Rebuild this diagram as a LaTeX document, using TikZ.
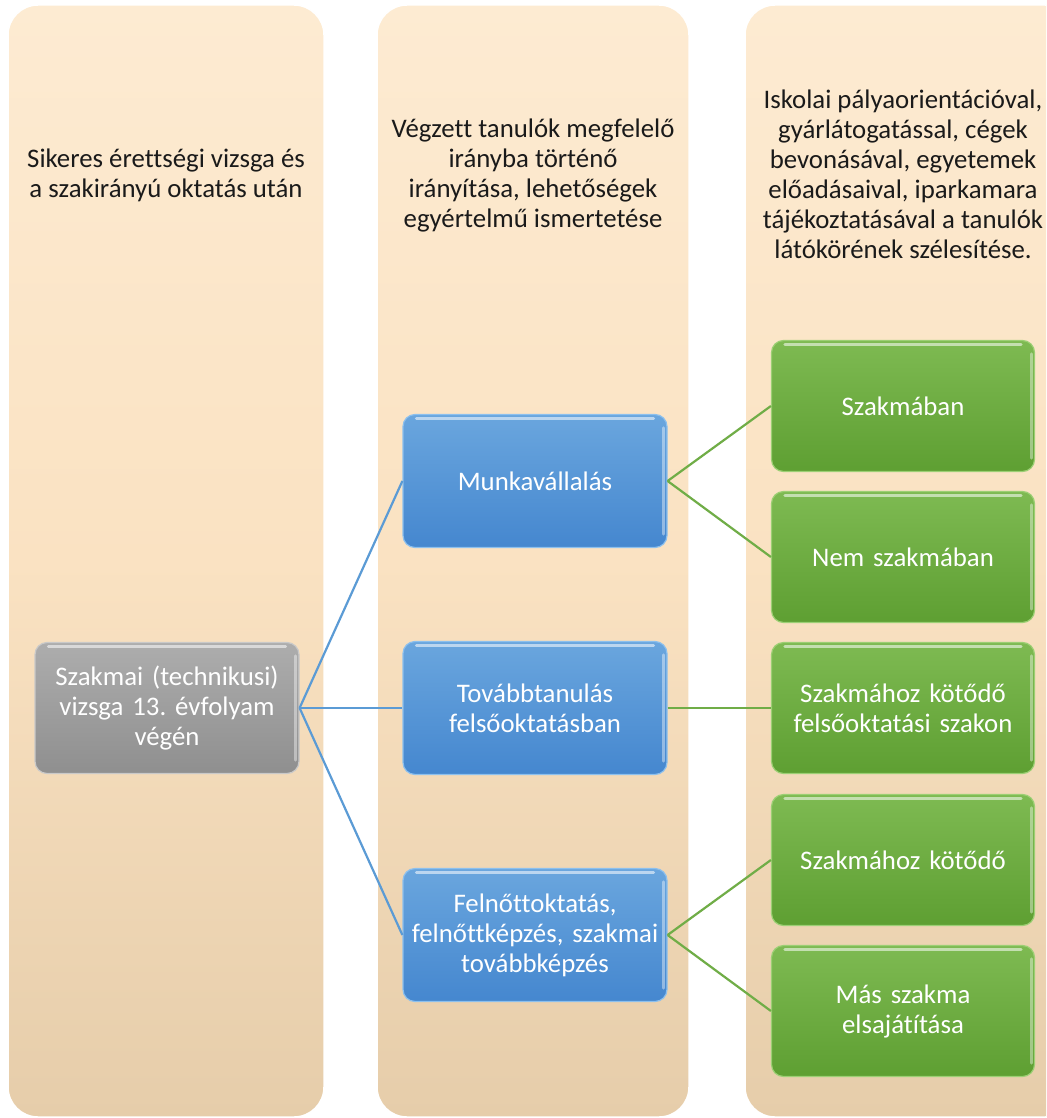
\documentclass[tikz,border=0pt]{standalone}
\usepackage{fontspec}
\setmainfont{Carlito}[Ligatures=NoCommon]
\definecolor{colTop}{HTML}{FDEBD2}
\definecolor{colMid}{HTML}{FAE2C2}
\definecolor{colBot}{HTML}{E6CDAA}
\definecolor{grayTop}{HTML}{ADADAD}
\definecolor{grayBot}{HTML}{8F8F8F}
\definecolor{grayEdge}{HTML}{C9C9C9}
\definecolor{blueTop}{HTML}{6AA6DE}
\definecolor{blueBot}{HTML}{4587CF}
\definecolor{blueEdge}{HTML}{8CC0EE}
\definecolor{greenTop}{HTML}{7EBA52}
\definecolor{greenBot}{HTML}{5E9F32}
\definecolor{greenEdge}{HTML}{9CCF74}
\definecolor{blueLine}{HTML}{5B9BD5}
\definecolor{greenLine}{HTML}{70AD47}
\definecolor{headText}{HTML}{1A1A1A}
\tikzset{
  column/.style={rounded corners=30pt, top color=colTop, bottom color=colBot, middle color=colMid, draw=white, line width=1.5pt},
  header/.style={align=center, text=headText, font=\fontsize{26.8}{30}\selectfont\frenchspacing},
  box/.style={rounded corners=12pt, minimum width=264pt, minimum height=131pt, text width=256pt,
    align=center, text=white, font=\fontsize{26.8}{30}\selectfont\frenchspacing, line width=1.2pt},
  graybox/.style={box, top color=grayTop, bottom color=grayBot, draw=grayEdge},
  bluebox/.style={box, minimum height=133pt, top color=blueTop, bottom color=blueBot, draw=blueEdge},
  greenbox/.style={box, minimum width=263pt, top color=greenTop, bottom color=greenBot, draw=greenEdge},
  gloss/.style={white, opacity=0.55, line width=3pt, line cap=round},
  bline/.style={blueLine, line width=2.2pt},
  gline/.style={greenLine, line width=2.2pt},
}
\newcommand{\glossy}[1]{%
  \draw[gloss] ([xshift=14pt,yshift=-5pt]#1.north west) -- ([xshift=-14pt,yshift=-5pt]#1.north east);
  \draw[gloss, opacity=0.4] ([xshift=-4pt,yshift=-14pt]#1.north east) -- ([xshift=-4pt,yshift=14pt]#1.south east);
}
\begin{document}
\begin{tikzpicture}[x=1pt, y=-1pt]
  \useasboundingbox (0,0) rectangle (1046,1118);
  \clip (0,0) rectangle (1046,1118);
  \fill[white] (0,0) rectangle (1046,1118);

  % background columns
  \path[column] (8,5) rectangle (324,1117);
  \path[column] (377,5) rectangle (689,1117);
  \path[column] (745,5) rectangle (1075,1117);

  % column headings
  \node[header] (h1) at (166,175) {Sikeres érettségi vizsga és\\a szakirányú oktatás után};
  \node[header] (h2) at (533,175) {Végzett tanulók megfelelő\\irányba történő\\irányítása, lehetőségek\\egyértelmű ismertetése};
  \node[header] (h3) at (903,174) {Iskolai pályaorientációval,\\gyárlátogatással, cégek\\bevonásával, egyetemek\\előadásaival, iparkamara\\tájékoztatásával a tanulók\\látókörének szélesítése.};

  % nodes
  \node[graybox] (g) at (167,708) {Szakmai (technikusi)\\vizsga 13. évfolyam\\végén};
  \node[bluebox] (b1) at (535,481) {Munkavállalás};
  \node[bluebox] (b2) at (535,708) {Továbbtanulás\\felsőoktatásban};
  \node[bluebox] (b3) at (535,935) {Felnőttoktatás,\\felnőttképzés, szakmai\\továbbképzés};
  \node[greenbox] (s1) at (903,406) {Szakmában};
  \node[greenbox] (s2) at (903,557) {Nem szakmában};
  \node[greenbox] (s3) at (903,708) {Szakmához kötődő\\felsőoktatási szakon};
  \node[greenbox] (s4) at (903,860) {Szakmához kötődő};
  \node[greenbox] (s5) at (903,1011) {Más szakma\\elsajátítása};

  \foreach \n in {g,b1,b2,b3,s1,s2,s3,s4,s5} {\glossy{\n}}

  % connectors
  \draw[bline] (g.east) -- (b1.west);
  \draw[bline] (g.east) -- (b2.west);
  \draw[bline] (g.east) -- (b3.west);
  \draw[gline] (b1.east) -- (s1.west);
  \draw[gline] (b1.east) -- (s2.west);
  \draw[gline] (b2.east) -- (s3.west);
  \draw[gline] (b3.east) -- (s4.west);
  \draw[gline] (b3.east) -- (s5.west);
\end{tikzpicture}
\end{document}
